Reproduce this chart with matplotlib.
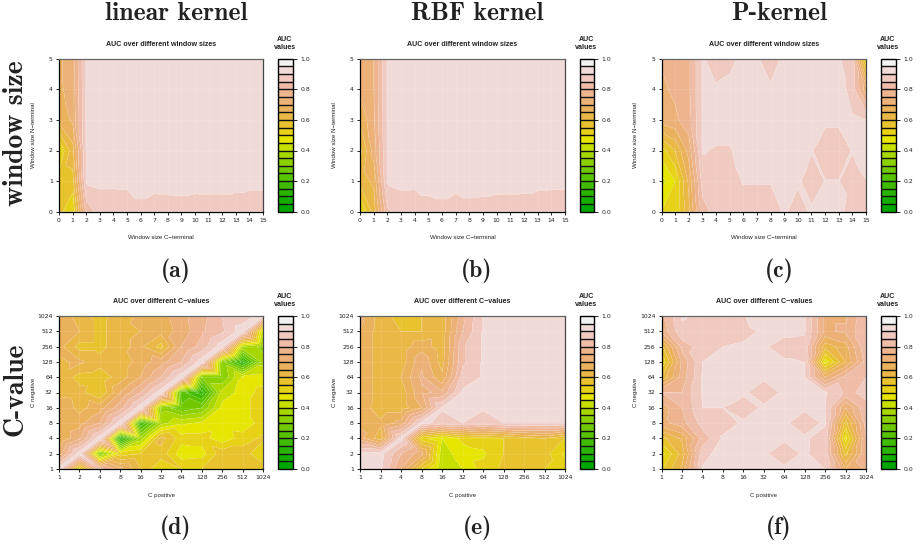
from matplotlib import pyplot as plt
from matplotlib.tri import Triangulation
import colorsys
import numpy as np

# values, rows go from bottom (y=0) to top
win_x = list(range(16))
win_y = list(range(6))
c_labels = ["1", "2", "4", "8", "16", "32", "64", "128", "256", "512", "1024"]

auc_a = [
    [.57, .50, .82, .872, .868, .875, .893, .885, .888, .889, .885, .888, .888, .883, .877, .879],
    [.57, .58, .905, .91, .91, .91, .91, .91, .91, .91, .91, .91, .91, .91, .91, .91],
    [.50, .63, .905, .925, .925, .925, .925, .925, .925, .925, .925, .925, .925, .925, .925, .925],
    [.66, .71, .905, .925, .925, .925, .925, .925, .925, .925, .925, .925, .925, .925, .925, .925],
    [.69, .72, .905, .925, .925, .925, .925, .925, .925, .925, .925, .925, .925, .925, .925, .925],
    [.69, .73, .905, .925, .925, .925, .925, .925, .925, .925, .925, .925, .925, .925, .925, .925],
]
auc_b = [
    [.49, .62, .84, .877, .874, .889, .893, .886, .892, .89, .887, .887, .885, .879, .873, .874],
    [.62, .66, .905, .91, .91, .91, .91, .91, .91, .91, .91, .91, .91, .91, .91, .91],
    [.585, .72, .905, .925, .925, .925, .925, .925, .925, .925, .925, .925, .925, .925, .925, .925],
    [.66, .74, .905, .925, .925, .925, .925, .925, .925, .925, .925, .925, .925, .925, .925, .925],
    [.71, .75, .905, .925, .925, .925, .925, .925, .925, .925, .925, .925, .925, .925, .925, .925],
    [.73, .75, .905, .925, .925, .925, .925, .925, .925, .925, .925, .925, .925, .925, .925, .925],
]
auc_c = [
    [.50, .50, .64, .83, .87, .875, .875, .875, .875, .905, .885, .905, .92, .92, .87, .87],
    [.43, .50, .66, .87, .87, .88, .903, .903, .903, .925, .905, .885, .901, .901, .885, .899],
    [.525, .60, .72, .905, .895, .895, .925, .925, .925, .925, .925, .902, .885, .885, .902, .92],
    [.72, .74, .78, .905, .925, .925, .925, .925, .925, .925, .925, .925, .905, .905, .905, .90],
    [.74, .76, .79, .905, .905, .91, .925, .905, .905, .925, .925, .925, .925, .925, .88, .72],
    [.755, .77, .79, .905, .88, .89, .91, .905, .88, .91, .925, .925, .925, .905, .87, .50],
]
auc_d = [
    [.93, .50, .82, .72, .60, .50, .55, .55, .58, .58, .58],
    [.72, .93, .30, .52, .55, .58, .47, .48, .58, .58, .50],
    [.65, .74, .93, .10, .37, .62, .52, .52, .47, .52, .56],
    [.65, .68, .75, .93, .15, .38, .44, .46, .48, .47, .52],
    [.70, .63, .68, .78, .93, .33, .26, .30, .47, .47, .55],
    [.63, .62, .55, .70, .80, .93, .22, .12, .42, .47, .52],
    [.64, .58, .57, .62, .70, .80, .93, .30, .30, .46, .47],
    [.64, .66, .62, .62, .67, .73, .80, .93, .32, .12, .38],
    [.67, .58, .58, .64, .66, .58, .75, .82, .93, .40, .33],
    [.68, .65, .58, .64, .65, .67, .72, .79, .84, .93, .42],
    [.70, .62, .58, .63, .66, .68, .73, .78, .85, .87, .93],
]
auc_e = [
    [.92, .91, .75, .55, .40, .45, .52, .56, .58, .55, .52],
    [.92, .92, .80, .72, .42, .48, .49, .55, .60, .57, .49],
    [.72, .62, .92, .52, .45, .51, .53, .55, .58, .60, .55],
    [.69, .66, .72, .92, .88, .90, .88, .90, .90, .90, .90],
    [.68, .62, .62, .70, .905, .92, .905, .92, .92, .92, .92],
    [.70, .62, .62, .74, .76, .91, .92, .92, .92, .92, .92],
    [.70, .62, .65, .76, .66, .87, .905, .92, .92, .92, .92],
    [.70, .62, .62, .74, .63, .84, .905, .92, .92, .92, .92],
    [.70, .62, .62, .68, .62, .84, .905, .92, .92, .92, .92],
    [.70, .62, .60, .60, .62, .80, .905, .92, .92, .92, .92],
    [.72, .62, .58, .60, .62, .78, .905, .92, .92, .92, .92],
]
auc_f = [
    [.54, .66, .905, .925, .925, .925, .905, .925, .90, .70, .76],
    [.48, .62, .88, .925, .925, .905, .885, .905, .88, .58, .80],
    [.58, .66, .82, .905, .925, .925, .905, .905, .885, .48, .80],
    [.73, .78, .87, .885, .905, .925, .905, .885, .905, .58, .82],
    [.72, .80, .90, .90, .885, .905, .925, .905, .90, .70, .84],
    [.80, .80, .905, .925, .905, .885, .905, .925, .905, .84, .86],
    [.60, .77, .905, .925, .925, .905, .925, .90, .70, .82, .85],
    [.50, .76, .90, .925, .925, .925, .905, .90, .47, .65, .82],
    [.58, .82, .875, .90, .905, .905, .885, .885, .62, .68, .84],
    [.76, .89, .88, .88, .89, .905, .91, .905, .74, .76, .84],
    [.78, .905, .89, .88, .897, .925, .925, .905, .74, .74, .84],
]

col_titles = ["linear kernel", "RBF kernel", "P-kernel"]
panel_tags = ["(a)", "(b)", "(c)", "(d)", "(e)", "(f)"]

W, H = 921, 546
levels = np.linspace(0, 1, 21)


# same ramp as R's terrain.colors(20)
def terrain(n):
    k = n // 2
    out = []
    for h, s, v in zip(np.linspace(1/3, 1/6, k), np.ones(k), np.linspace(.65, .9, k)):
        out.append(colorsys.hsv_to_rgb(h, s, v))
    m = n - k + 1
    for h, s, v in list(zip(np.linspace(1/6, 0, m), np.linspace(1, 0, m), np.linspace(.9, .95, m)))[1:]:
        out.append(colorsys.hsv_to_rgb(h, s, v))
    return out


cols = terrain(20)
small = ["Liberation Sans"]
dark = "#222222"


def px_axes(fig, x0, x1, y0, y1):
    return fig.add_axes([x0 / W, 1 - y1 / H, (x1 - x0) / W, (y1 - y0) / H])


# split every grid cell along its higher diagonal, so light areas stay joined at saddles
def cell_mesh(xs, ys, z):
    nx = len(xs)
    gx, gy = np.meshgrid(xs, ys)
    tris = []
    for j in range(len(ys) - 1):
        for i in range(nx - 1):
            a, b = j * nx + i, j * nx + i + 1
            c, d = a + nx, b + nx
            if z[j, i] + z[j + 1, i + 1] >= z[j, i + 1] + z[j + 1, i]:
                tris += [[a, b, d], [a, d, c]]
            else:
                tris += [[a, b, c], [b, d, c]]
    return Triangulation(gx.ravel(), gy.ravel(), tris)


def panel(fig, z, x0, x1, y0, y1, cb0, top_row):
    ax = px_axes(fig, x0, x1, y0, y1)
    z = np.array(z)
    if top_row:
        xs, ys = win_x, win_y
    else:
        xs, ys = list(range(11)), list(range(11))
    tri = cell_mesh(xs, ys, z)
    cs = ax.tricontourf(tri, z.ravel(), levels=levels, colors=cols, antialiased=True)
    ax.tricontour(tri, z.ravel(), levels=levels, colors="white", linewidths=.3, alpha=.14)
    for v in xs[1:-1]:
        ax.axvline(v, color="white", lw=.5, alpha=.14)
    for v in ys[1:-1]:
        ax.axhline(v, color="white", lw=.5, alpha=.14)
    ax.set_xticks(xs)
    ax.set_yticks(ys)
    if top_row:
        title = "AUC over different window sizes"
        xlab, ylab = "Window size C\u2212terminal", "Window size N\u2212terminal"
    else:
        ax.set_xticklabels(c_labels)
        ax.set_yticklabels(c_labels)
        title = "AUC over different C\u2212values"
        xlab, ylab = "C positive", "C negative"
    ax.tick_params(length=2, width=.6, labelsize=4.4, pad=2.5, labelcolor=dark)
    for s in ax.spines.values():
        s.set_linewidth(.9)
    ax.spines["top"].set_color("#666666")
    ax.spines["right"].set_color("#444444")
    fig.text((x0 + x1) / 2 / W, 1 - (y0 - 14.5) / H, title, ha="center", va="center",
             fontsize=5.1, fontweight="bold", family=small, color=dark)
    fig.text((x0 + x1) / 2 / W, 1 - (y1 + 26) / H, xlab, ha="center", va="center",
             fontsize=4.4, family=small, color=dark)
    fig.text((x0 - 26) / W, 1 - (y0 + y1) / 2 / H, ylab, ha="center", va="center",
             rotation=90, fontsize=4.4, family=small, color=dark)

    cax = px_axes(fig, cb0, cb0 + 14.5, y0, y1)
    cb = fig.colorbar(cs, cax=cax, drawedges=True, ticks=[0, .2, .4, .6, .8, 1])
    cb.ax.set_yticklabels(["0.0", "0.2", "0.4", "0.6", "0.8", "1.0"])
    cb.ax.tick_params(length=3, width=.6, labelsize=4.4, pad=2.5, labelcolor=dark)
    cb.dividers.set_linewidth(1.0)
    cb.dividers.set_color("#111111")
    cb.outline.set_linewidth(1.0)
    fig.text((cb0 + 7) / W, 1 - (y0 - 15) / H, "AUC\nvalues", ha="center", va="center",
             fontsize=5.1, fontweight="bold", family=small, color=dark, linespacing=1.2)


fig = plt.figure(figsize=(W / 100, H / 100), dpi=100)

tops = [(59, 263, 278), (360, 565, 579.5), (661.5, 866, 881)]
for (x0, x1, cb0), z in zip(tops, [auc_a, auc_b, auc_c]):
    panel(fig, z, x0, x1, 58.7, 211.7, cb0, True)
for (x0, x1, cb0), z in zip(tops, [auc_d, auc_e, auc_f]):
    panel(fig, z, x0, x1, 316, 469, cb0, False)

serif = "cmb10"
for t, x in zip(col_titles, [176, 477, 779]):
    fig.text(x / W, 1 - 14 / H, t, ha="center", va="center", fontsize=18.5, family=serif, color=dark)
for t, x, y in zip(panel_tags, [176, 477, 779] * 2, [271] * 3 + [528] * 3):
    fig.text(x / W, 1 - y / H, t, ha="center", va="center", fontsize=17, family=serif, color=dark)
fig.text(16 / W, 1 - 133 / H, "window size", rotation=90, ha="center", va="center",
         fontsize=20, family=serif, color=dark)
fig.text(16 / W, 1 - 389 / H, "C-value", rotation=90, ha="center", va="center",
         fontsize=20, family=serif, color=dark)

fig.savefig("out.png", dpi=100)
